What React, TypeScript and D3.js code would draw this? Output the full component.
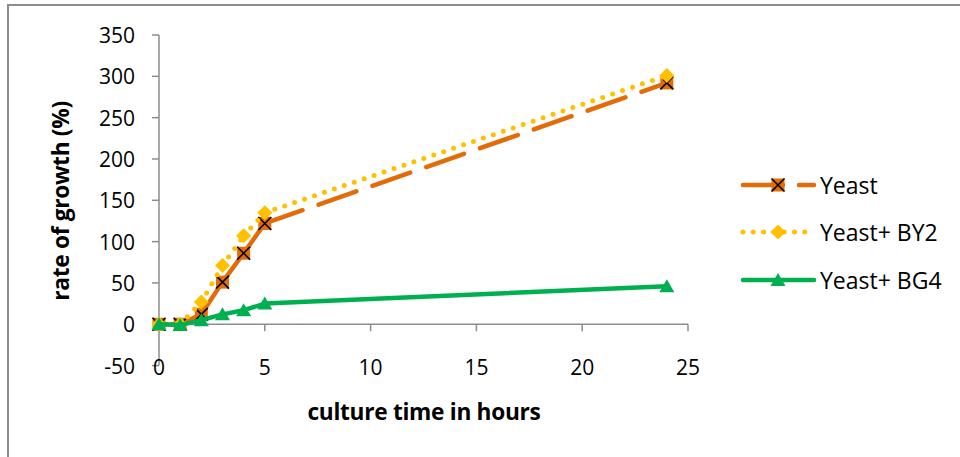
import React, { useEffect } from 'react';
import * as d3 from 'd3';

// culture time (hours)
const hours = [0, 1, 2, 3, 4, 5, 24];
// rate of growth (%) per series
const yeast = [0, 0, 12, 51, 86, 122, 292];
const yeastBY2 = [0, 0, 27, 71, 107, 135, 301];
const yeastBG4 = [0, -1, 5, 12, 17, 25, 46];

const seriesNames = ['Yeast', 'Yeast+ BY2', 'Yeast+ BG4'];
const yTicks = [-50, 0, 50, 100, 150, 200, 250, 300, 350];
const xTicks = [0, 5, 10, 15, 20, 25];

const ORANGE = '#E36C09';
const YELLOW = '#FFC000';
const GREEN = '#00B050';
const AXIS = '#8C8C8C';
const FONT = "'Open Sans', 'Noto Sans', sans-serif";

const width = 960;
const height = 457;

const x = d3.scaleLinear().domain([0, 25]).range([159, 688]);
const y = d3.scaleLinear().domain([-50, 350]).range([365.6, 35]);

type Pt = [number, number];

const toPts = (vals: number[]): Pt[] => hours.map((h, i) => [x(h), y(vals[i])]);

const line = d3.line<Pt>();

// Excel restarts the dash pattern on each segment
const Segments: React.FC<{ pts: Pt[]; stroke: string; dash: string; cap: string; w: number }> = ({ pts, stroke, dash, cap, w }) => (
  <g>
    {d3.pairs(pts).map((p, i) => (
      <path
        key={i}
        d={line(p) || ''}
        fill="none"
        stroke={stroke}
        strokeWidth={w}
        strokeDasharray={dash}
        strokeLinecap={cap as any}
      />
    ))}
  </g>
);

const XMarker: React.FC<{ cx: number; cy: number }> = ({ cx, cy }) => {
  const s = 6.5;
  return (
    <g>
      <rect x={cx - s} y={cy - s} width={s * 2} height={s * 2} fill={ORANGE} />
      <path
        d={`M${cx - s},${cy - s}L${cx + s},${cy + s}M${cx + s},${cy - s}L${cx - s},${cy + s}`}
        stroke="#000"
        strokeWidth={1.6}
      />
    </g>
  );
};

const Diamond: React.FC<{ cx: number; cy: number }> = ({ cx, cy }) => {
  const s = 7.5;
  return <path d={`M${cx},${cy - s}L${cx + s},${cy}L${cx},${cy + s}L${cx - s},${cy}Z`} fill={YELLOW} />;
};

const Triangle: React.FC<{ cx: number; cy: number }> = ({ cx, cy }) => (
  <path d={`M${cx},${cy - 7}L${cx + 7.5},${cy + 6}L${cx - 7.5},${cy + 6}Z`} fill={GREEN} />
);

const App: React.FC = () => {
  useEffect(() => {
    document.body.style.margin = '0';
  }, []);

  const pY = toPts(yeast);
  const pB = toPts(yeastBY2);
  const pG = toPts(yeastBG4);

  const legendY = [185, 232, 280];
  const lx0 = 743;
  const lx1 = 814;
  const lmx = 778;

  return (
    <svg width={width} height={height} style={{ display: 'block', background: '#fff' }} fontFamily={FONT}>
      <rect x={8} y={5} width={1000} height={600} fill="#fff" stroke={AXIS} strokeWidth={2} />

      {/* axes */}
      <g stroke={AXIS} strokeWidth={1.5}>
        <line x1={x(0)} x2={x(0)} y1={y(350)} y2={y(-50)} />
        {yTicks.map(t => (
          <line key={t} x1={x(0) - 7} x2={x(0)} y1={y(t)} y2={y(t)} />
        ))}
        <line x1={x(0)} x2={x(25)} y1={y(0)} y2={y(0)} />
        {xTicks.map(t => (
          <line key={t} x1={x(t)} x2={x(t)} y1={y(0)} y2={y(0) + 7} />
        ))}
      </g>

      <g fontSize={21} fill="#000">
        {yTicks.map(t => (
          <text key={t} x={135} y={y(t)} textAnchor="end" dominantBaseline="central">
            {t}
          </text>
        ))}
        {xTicks.map(t => (
          <text key={t} x={x(t)} y={367} textAnchor="middle" dominantBaseline="central">
            {t}
          </text>
        ))}
      </g>

      <text
        transform={`translate(60,201) rotate(-90)`}
        textAnchor="middle"
        dominantBaseline="central"
        fontSize={22.7}
        fontWeight="bold"
        letterSpacing={-0.3}
      >
        rate of growth (%)
      </text>
      <text x={424} y={411} textAnchor="middle" dominantBaseline="central" fontSize={22.7} fontWeight="bold" letterSpacing={-0.3}>
        culture time in hours
      </text>

      {/* series */}
      <Segments pts={pY} stroke={ORANGE} dash="40 17" cap="round" w={4.5} />
      {pY.map((p, i) => (
        <XMarker key={i} cx={p[0]} cy={p[1]} />
      ))}
      <Segments pts={pB} stroke={YELLOW} dash="0 10.5" cap="round" w={5} />
      {pB.map((p, i) => (
        <Diamond key={i} cx={p[0]} cy={p[1]} />
      ))}
      <Segments pts={pG} stroke={GREEN} dash="none" cap="round" w={4.5} />
      {pG.map((p, i) => (
        <Triangle key={i} cx={p[0]} cy={p[1]} />
      ))}

      {/* legend */}
      <g>
        <path d={`M${lx0},${legendY[0]}H${lx1}`} stroke={ORANGE} strokeWidth={4.5} strokeDasharray="40 16" strokeLinecap="round" />
        <XMarker cx={lmx} cy={legendY[0]} />
        <path d={`M${lx0},${legendY[1]}H${lx1}`} stroke={YELLOW} strokeWidth={5} strokeDasharray="0 10.3" strokeLinecap="round" />
        <Diamond cx={lmx} cy={legendY[1]} />
        <path d={`M${lx0},${legendY[2]}H${lx1}`} stroke={GREEN} strokeWidth={4.5} strokeLinecap="round" />
        <Triangle cx={lmx} cy={legendY[2]} />
        {seriesNames.map((n, i) => (
          <text key={n} x={820} y={legendY[i]} dominantBaseline="central" fontSize={23}>
            {n}
          </text>
        ))}
      </g>
    </svg>
  );
};

export default App;
